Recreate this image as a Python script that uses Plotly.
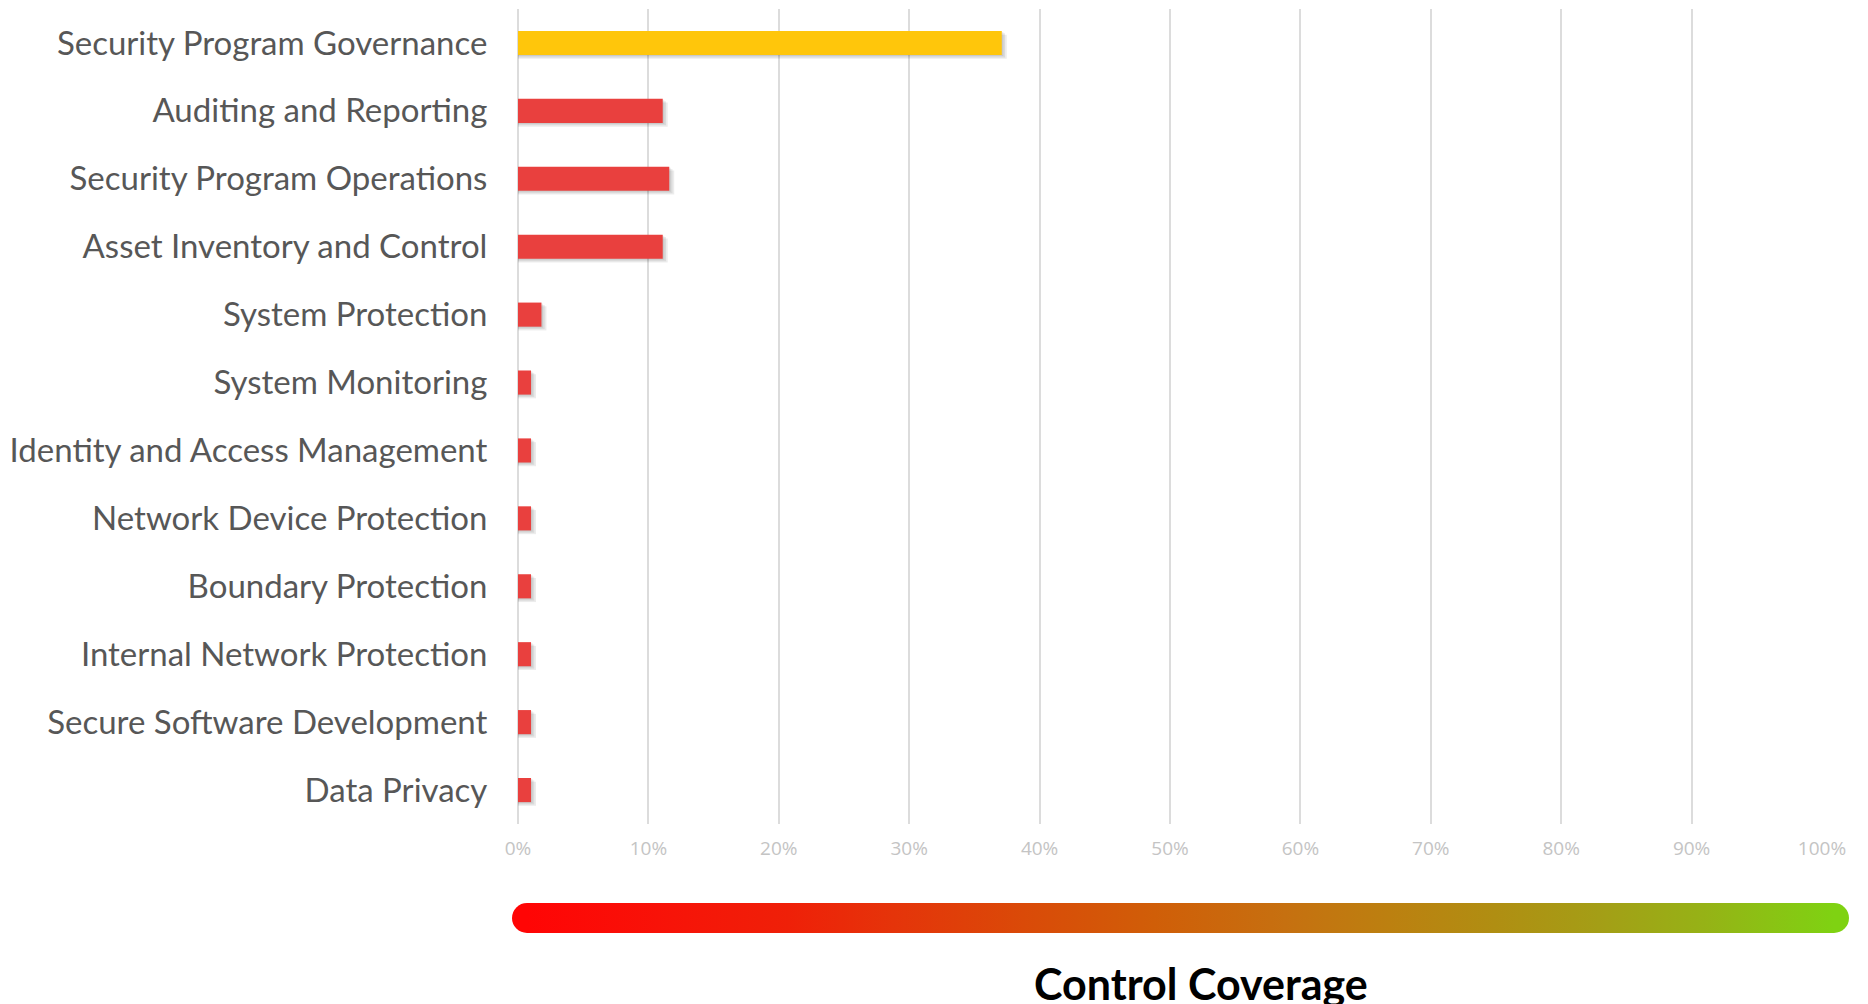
import plotly.graph_objects as go

# Control coverage by security domain (percent of controls in place)
categories = [
    "Security Program Governance",
    "Auditing and Reporting",
    "Security Program Operations",
    "Asset Inventory and Control",
    "System Protection",
    "System Monitoring",
    "Identity and Access Management",
    "Network Device Protection",
    "Boundary Protection",
    "Internal Network Protection",
    "Secure Software Development",
    "Data Privacy",
]
coverage = [37.1, 11.1, 11.6, 11.1, 1.8, 1.0, 1.0, 1.0, 1.0, 1.0, 1.0, 1.0]
bar_colors = ["#FFC60B"] + ["#E9403E"] * 11

tick_values = [0, 10, 20, 30, 40, 50, 60, 70, 80, 90, 100]
tick_labels = [f"{v}%" for v in tick_values]

# Red -> amber -> green scale for the coverage legend bar
coverage_scale = [
    [0.00, "#ff0505"],
    [0.10, "#f81208"],
    [0.20, "#ef2008"],
    [0.28, "#e5340a"],
    [0.38, "#da4a08"],
    [0.48, "#d05e08"],
    [0.58, "#c67010"],
    [0.66, "#bc8010"],
    [0.74, "#b08e12"],
    [0.82, "#a49e16"],
    [0.90, "#96b216"],
    [1.00, "#7fd212"],
]

W, H = 1868, 1004
ML, MR, MT, MB = 518, 46, 9, 180
plot_w = W - ML - MR
plot_h = H - MT - MB

BAR_W = 0.355
fig = go.Figure()

# soft drop shadow under each bar, built from a few translucent layers
for dy, dx in [(0.015, 0.12), (0.035, 0.25), (0.055, 0.38)]:
    fig.add_trace(go.Bar(
        y=categories,
        x=[v + dx for v in coverage],
        base=0,
        orientation="h",
        width=BAR_W,
        offset=-BAR_W / 2 + dy,
        marker=dict(color="rgba(0,0,0,0.075)", line=dict(width=0)),
        hoverinfo="skip",
        showlegend=False,
    ))

fig.add_trace(go.Bar(
    y=categories,
    x=coverage,
    orientation="h",
    width=BAR_W,
    marker=dict(color=bar_colors, line=dict(width=0)),
    showlegend=False,
    hovertemplate="%{y}: %{x}%<extra></extra>",
))

# carrier trace for the horizontal colour scale legend
cb_center_px = (512 + 1849) / 2
cb_y = -(918 - (H - MB)) / plot_h
fig.add_trace(go.Scatter(
    x=[None], y=[None],
    mode="markers",
    marker=dict(
        color=[0, 100], cmin=0, cmax=100,
        colorscale=coverage_scale,
        showscale=True,
        colorbar=dict(
            orientation="h",
            x=(cb_center_px - ML) / plot_w, xanchor="center",
            y=cb_y, yanchor="middle",
            len=1337 - 30, lenmode="pixels",
            thickness=30, thicknessmode="pixels",
            outlinewidth=0, xpad=0, ypad=0,
            showticklabels=False, ticks="",
        ),
    ),
    hoverinfo="skip",
    showlegend=False,
))

# rounded caps on the legend bar
for px, col in [(512 + 15, "#ff0505"), (1849 - 15, "#7fd212")]:
    fig.add_shape(
        type="circle", xref="paper", yref="paper",
        xsizemode="pixel", ysizemode="pixel",
        xanchor=(px - ML) / plot_w, yanchor=cb_y,
        x0=-15, x1=15, y0=-15, y1=15,
        fillcolor=col, line=dict(width=0), layer="above",
    )

fig.add_annotation(
    text="<b>Control Coverage</b>",
    xref="paper", yref="paper",
    x=(1201 - ML) / plot_w, y=-MB / plot_h,
    xanchor="center", yanchor="bottom", yshift=-7,
    showarrow=False,
    font=dict(family="Lato", size=43, color="#000000"),
)

fig.update_layout(
    width=W, height=H,
    margin=dict(l=ML, r=MR, t=MT, b=MB),
    paper_bgcolor="white", plot_bgcolor="white",
    barmode="overlay",
    bargap=0.645,
    xaxis=dict(
        range=[0, 100],
        tickvals=tick_values, ticktext=tick_labels,
        showgrid=True, gridcolor="#dcdcdc", gridwidth=2,
        zeroline=True, zerolinecolor="#dcdcdc", zerolinewidth=2,
        showline=False,
        ticks="outside", ticklen=7, tickcolor="rgba(0,0,0,0)",
        tickfont=dict(family="Open Sans", size=19, color="#c4c4c4"),
        fixedrange=True,
    ),
    yaxis=dict(
        categoryorder="array", categoryarray=categories,
        autorange="reversed",
        showgrid=False, zeroline=False, showline=False,
        ticks="outside", ticklen=23, tickcolor="rgba(0,0,0,0)",
        tickfont=dict(family="Lato", size=33, color="#575757"),
        fixedrange=True,
    ),
    font=dict(family="Lato"),
)

fig.write_html("out.html")
